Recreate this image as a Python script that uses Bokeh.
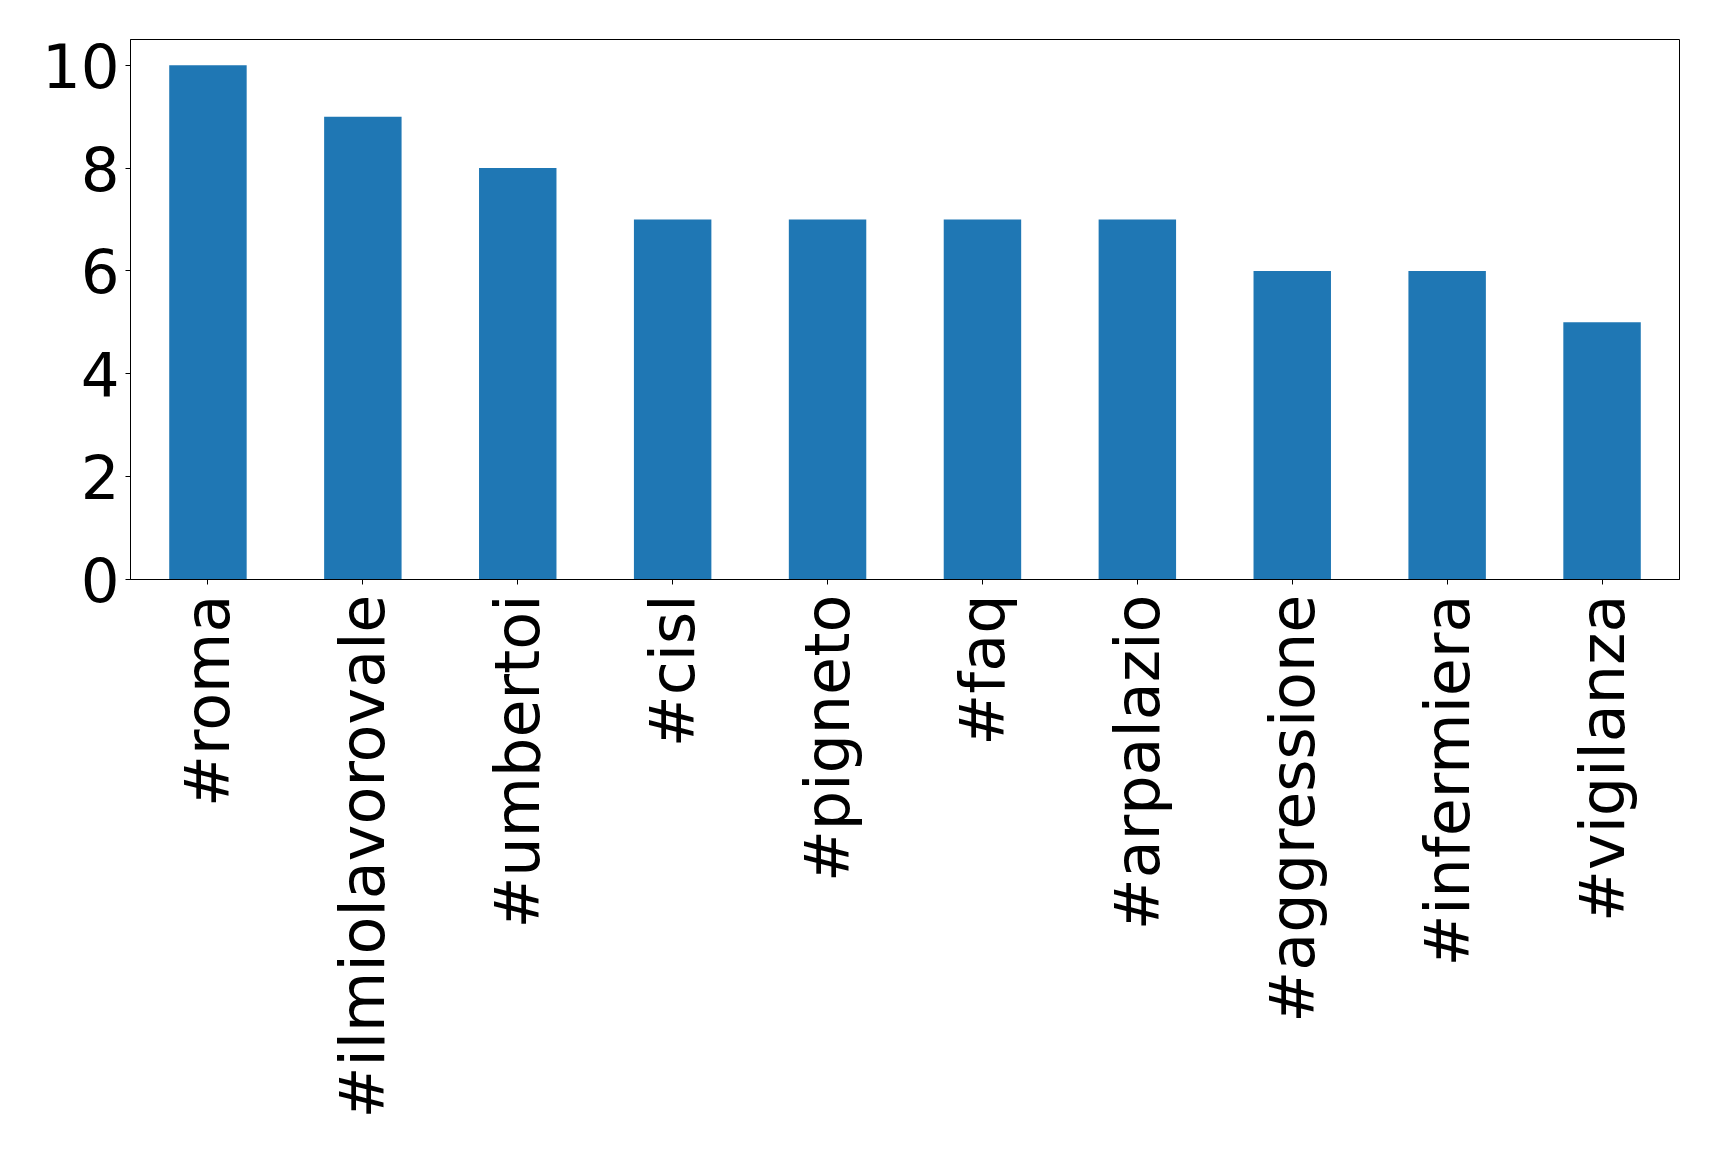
import math
from bokeh.plotting import figure
from bokeh.models import ColumnDataSource, FactorRange, Range1d, FixedTicker
from bokeh.embed import file_html
from bokeh.resources import INLINE

tags = ["#roma", "#ilmiolavorovale", "#umbertoi", "#cisl", "#pigneto",
        "#faq", "#arpalazio", "#aggressione", "#infermiera", "#vigilanza"]
counts = [10, 9, 8, 7, 7, 7, 7, 6, 6, 5]
y_ticks = [0, 2, 4, 6, 8, 10]

source = ColumnDataSource(data=dict(tag=tags, count=counts))

p = figure(
    x_range=FactorRange(factors=tags, range_padding=0),
    y_range=Range1d(0, 10.5),
    frame_width=1549, frame_height=540,
    min_border_left=130, min_border_right=24, min_border_top=39, min_border_bottom=10,
    output_backend="svg", toolbar_location=None,
    background_fill_color="white", border_fill_color="white",
)

p.vbar(x="tag", top="count", width=0.5, source=source,
       fill_color="#1f77b4", line_color=None)

p.xgrid.visible = False
p.ygrid.visible = False
p.outline_line_color = "black"
p.outline_line_width = 1
p.outline_line_alpha = 1

font = "DejaVu Sans"

p.yaxis.ticker = FixedTicker(ticks=y_ticks)
p.yaxis.minor_tick_line_color = None
p.yaxis.major_tick_in = 0
p.yaxis.major_tick_out = 5
p.yaxis.major_label_text_font = font
p.yaxis.major_label_text_font_size = "61px"
p.yaxis.major_label_text_color = "black"
p.yaxis.major_label_standoff = 6
p.yaxis.axis_line_color = "black"
p.yaxis.major_tick_line_color = "black"

p.xaxis.major_label_orientation = math.pi / 2
p.xaxis.major_tick_in = 0
p.xaxis.major_tick_out = 5
p.xaxis.major_label_text_font = font
p.xaxis.major_label_text_font_size = "62px"
p.xaxis.major_label_text_color = "black"
p.xaxis.major_label_standoff = 10
p.xaxis.axis_line_color = "black"
p.xaxis.major_tick_line_color = "black"

open("out.html", "w").write(file_html(p, INLINE))
